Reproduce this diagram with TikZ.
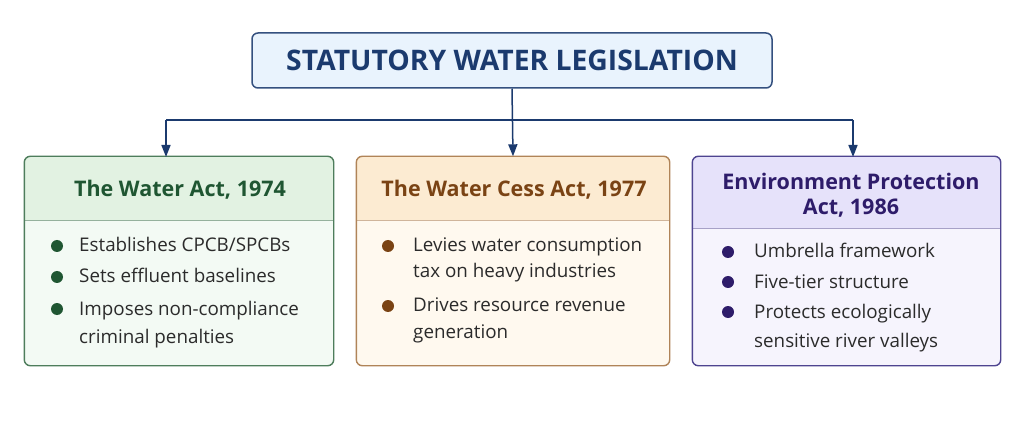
\documentclass[tikz,border=0pt]{standalone}
\usepackage{fontspec}
\setmainfont{Open Sans}
\usetikzlibrary{arrows.meta}
\definecolor{navy}{HTML}{1B3A6E}
\definecolor{titlefill}{HTML}{E9F3FD}
\definecolor{titleline}{HTML}{34507F}
\definecolor{gline}{HTML}{4E7D5C}
\definecolor{ghead}{HTML}{E2F2E2}
\definecolor{gbody}{HTML}{F3FAF4}
\definecolor{gtext}{HTML}{1F5632}
\definecolor{bline}{HTML}{B08458}
\definecolor{bhead}{HTML}{FCEBD2}
\definecolor{bbody}{HTML}{FFF9EF}
\definecolor{btext}{HTML}{7A4314}
\definecolor{pline}{HTML}{4E4490}
\definecolor{phead}{HTML}{E6E2FA}
\definecolor{pbody}{HTML}{F6F4FD}
\definecolor{ptext}{HTML}{2E1C6A}
\definecolor{bodytext}{HTML}{2B2B2B}
\tikzset{
  conn/.style={draw=navy, line width=1.5pt, -{Triangle[width=9pt,length=12pt]}},
  plain/.style={draw=navy, line width=1.5pt},
  card/.style={rectangle, rounded corners=6pt, line width=1.4pt, minimum height=208pt, inner sep=0pt},
  headtxt/.style={anchor=base, inner sep=0pt, font=\fontsize{21.5}{25}\selectfont\bfseries},
  item/.style={anchor=base west, font=\fontsize{18.8}{28}\selectfont, text=bodytext, inner sep=0pt},
  dot/.style={circle, minimum size=12pt, inner sep=0pt},
}
\begin{document}
\begin{tikzpicture}[x=1pt,y=-1pt]
\useasboundingbox (0,0) rectangle (1024,427);
\fill[white] (0,0) rectangle (1024,427);
% title
\node[rectangle, rounded corners=6pt, draw=titleline, fill=titlefill, line width=1.5pt,
      minimum width=520pt, minimum height=55pt, text=navy,
      font=\fontsize{28.3}{30}\selectfont\bfseries] (title) at (512,60.5) {STATUTORY WATER LEGISLATION};
% cards
\node[card, fill=gbody, minimum width=308pt] (c1) at (179,261) {};
\node[card, fill=bbody, minimum width=312pt] (c2) at (513,261) {};
\node[card, fill=pbody, minimum width=307pt] (c3) at (846.5,261) {};
% headers
\begin{scope}
\clip[rounded corners=6pt] (c1.north west) rectangle (c1.south east);
\fill[ghead] (c1.north west) rectangle (c1.east |- 0,221);
\end{scope}
\begin{scope}
\clip[rounded corners=6pt] (c2.north west) rectangle (c2.south east);
\fill[bhead] (c2.north west) rectangle (c2.east |- 0,221);
\end{scope}
\begin{scope}
\clip[rounded corners=6pt] (c3.north west) rectangle (c3.south east);
\fill[phead] (c3.north west) rectangle (c3.east |- 0,229);
\end{scope}
\draw[gline!60, line width=1pt] (c1.west |- 0,221) -- (c1.east |- 0,221);
\draw[bline!60, line width=1pt] (c2.west |- 0,221) -- (c2.east |- 0,221);
\draw[pline!50, line width=1pt] (c3.west |- 0,229) -- (c3.east |- 0,229);
\draw[gline, line width=1.4pt, rounded corners=6pt] (c1.north west) rectangle (c1.south east);
\draw[bline, line width=1.4pt, rounded corners=6pt] (c2.north west) rectangle (c2.south east);
\draw[pline, line width=1.4pt, rounded corners=6pt] (c3.north west) rectangle (c3.south east);
% header texts
\node[headtxt, text=gtext] (h1) at (180,197) {The Water Act, 1974};
\node[headtxt, text=btext] (h2) at (514,197) {The Water Cess Act, 1977};
\node[headtxt, text=ptext] (h3a) at (851,190) {Environment Protection};
\node[headtxt, text=ptext] (h3b) at (851,215) {Act, 1986};
% connectors
\coordinate (j) at (512,120);
\coordinate (a1) at (166,157);
\coordinate (a3) at (853,157);
\draw[plain] (j -| a1) -- (j -| a3);
\draw[conn] (title.south) -- (c2.north);
\draw[conn] (j -| a1) -- (a1);
\draw[conn] (j -| a3) -- (a3);
% items card 1
\node[dot, fill=gtext] (d11) at (57,246) {};
\node[dot, fill=gtext] (d12) at (57,277) {};
\node[dot, fill=gtext] (d13) at (57,309) {};
\node[item] (t11) at (79,252) {Establishes CPCB/SPCBs};
\node[item] (t12) at (79,283) {Sets effluent baselines};
\node[item] (t13) at (79,315) {Imposes non-compliance};
\node[item] (t14) at (79,343) {criminal penalties};
% items card 2
\node[dot, fill=btext] (d21) at (388,246) {};
\node[dot, fill=btext] (d22) at (388,306) {};
\node[item] (t21) at (413,252) {Levies water consumption};
\node[item] (t22) at (413,278) {tax on heavy industries};
\node[item] (t23) at (413,312) {Drives resource revenue};
\node[item] (t24) at (413,338) {generation};
% items card 3
\node[dot, fill=ptext] (d31) at (728,252) {};
\node[dot, fill=ptext] (d32) at (728,282) {};
\node[dot, fill=ptext] (d33) at (728,312) {};
\node[item] (t31) at (754,258) {Umbrella framework};
\node[item] (t32) at (754,288) {Five-tier structure};
\node[item] (t33) at (754,318) {Protects ecologically};
\node[item] (t34) at (754,347) {sensitive river valleys};
\end{tikzpicture}
\end{document}
